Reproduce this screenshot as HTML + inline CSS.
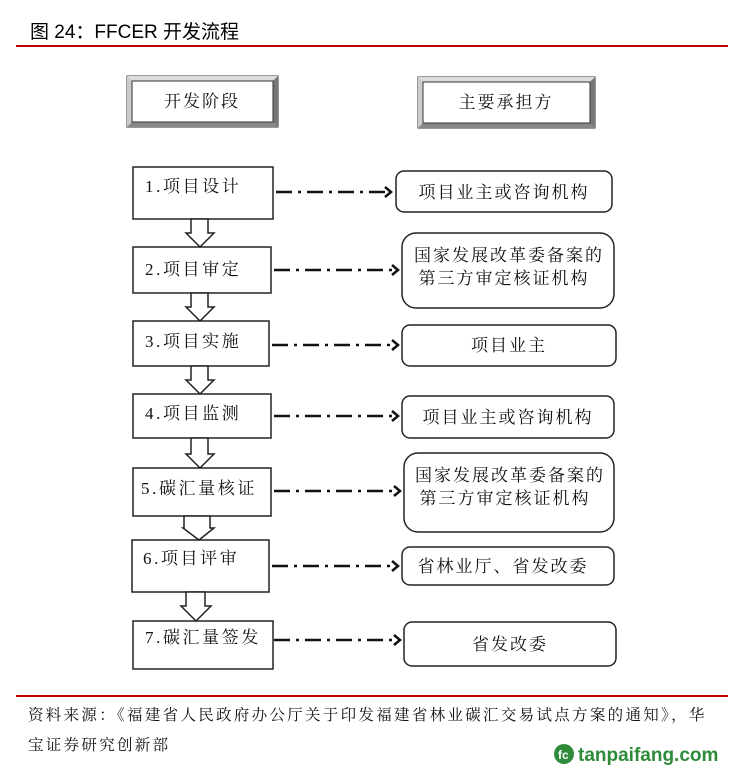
<!DOCTYPE html>
<html><head><meta charset="utf-8"><style>
html,body{margin:0;padding:0;background:#fff;width:747px;height:775px;overflow:hidden}
svg{display:block}
.t{font-family:"Liberation Serif","Noto Serif CJK SC",serif;font-size:17px;fill:#111;letter-spacing:2px}
.l{letter-spacing:2.6px}
.h{font-family:"Liberation Sans","Noto Sans CJK SC",sans-serif;font-size:19px;fill:#000}
.s{font-family:"Liberation Serif","Noto Serif CJK SC",serif;font-size:15.5px;fill:#111;letter-spacing:2.3px}
</style></head><body>
<svg width="747" height="775" viewBox="0 0 747 775" xmlns="http://www.w3.org/2000/svg">
<text class="h" x="30" y="38">图 24：FFCER 开发流程</text>
<rect x="16" y="45" width="712" height="2" fill="#c00000"/>

<g>
<rect x="127" y="76" width="151" height="51" fill="#999" stroke="#333"/>
<polygon points="127,76 278,76 273,81 132,81" fill="#ddd"/>
<polygon points="127,76 132,81 132,122 127,127" fill="#ccc"/>
<polygon points="278,76 278,127 273,122 273,81" fill="#777"/>
<polygon points="127,127 278,127 273,122 132,122" fill="#888"/>
<rect x="132" y="81" width="141" height="41" fill="#fff" stroke="#333"/>
<text class="t" x="202" y="107" text-anchor="middle" font-size="18">开发阶段</text>
</g>
<g>
<rect x="418" y="77" width="177" height="51" fill="#999" stroke="#333"/>
<polygon points="418,77 595,77 590,82 423,82" fill="#ddd"/>
<polygon points="418,77 423,82 423,123 418,128" fill="#ccc"/>
<polygon points="595,77 595,128 590,123 590,82" fill="#777"/>
<polygon points="418,128 595,128 590,123 423,123" fill="#888"/>
<rect x="423" y="82" width="167" height="41" fill="#fff" stroke="#333"/>
<text class="t" x="506" y="108" text-anchor="middle" font-size="18">主要承担方</text>
</g>

<g fill="#fff" stroke="#222" stroke-width="1.5">
<rect x="133" y="167" width="140" height="52"/>
<rect x="133" y="247" width="138" height="46"/>
<rect x="133" y="321" width="136" height="45"/>
<rect x="133" y="394" width="138" height="44"/>
<rect x="133" y="468" width="138" height="48"/>
<rect x="132" y="540" width="137" height="52"/>
<rect x="133" y="621" width="140" height="48"/>

<rect x="396" y="171" width="216" height="41" rx="8"/>
<rect x="402" y="233" width="212" height="75" rx="14"/>
<rect x="402" y="325" width="214" height="41" rx="8"/>
<rect x="402" y="396" width="212" height="42" rx="8"/>
<rect x="404" y="453" width="210" height="79" rx="14"/>
<rect x="402" y="547" width="212" height="38" rx="8"/>
<rect x="404" y="622" width="212" height="44" rx="8"/>
</g>

<g fill="#fff" stroke="#222" stroke-width="1.5">
<polygon points="191,219 208,219 208,233 214,233 200,247 186,233 191,233"/>
<polygon points="191,293 208,293 208,307 214,307 200,321 186,307 191,307"/>
<polygon points="191,366 208,366 208,380 214,380 200,394 186,380 191,380"/>
<polygon points="191,438 208,438 208,454 214,454 200,468 186,454 191,454"/>
<polygon points="184,516 210,516 210,528 214,528 199,540 183,528 184,528"/>
<polygon points="186,592 205,592 205,606 211,606 196,621 181,606 186,606"/>
</g>

<g stroke="#111" stroke-width="2.5" fill="none" stroke-dasharray="16,6,3,6">
<line x1="276" y1="192" x2="388" y2="192"/>
<line x1="274" y1="270" x2="394" y2="270"/>
<line x1="272" y1="345" x2="394" y2="345"/>
<line x1="274" y1="416" x2="394" y2="416"/>
<line x1="274" y1="491" x2="396" y2="491"/>
<line x1="272" y1="566" x2="394" y2="566"/>
<line x1="274" y1="640" x2="396" y2="640"/>
</g>
<g stroke="#111" stroke-width="2.5" fill="none">
<polyline points="385,187 391,192 385,197"/>
<polyline points="392,265 398,270 392,275"/>
<polyline points="392,340 398,345 392,350"/>
<polyline points="392,411 398,416 392,421"/>
<polyline points="394,486 400,491 394,496"/>
<polyline points="392,561 398,566 392,571"/>
<polyline points="394,635 400,640 394,645"/>
</g>

<g class="t">
<text class="l" x="145" y="192">1.项目设计</text>
<text class="l" x="145" y="275">2.项目审定</text>
<text class="l" x="145" y="347">3.项目实施</text>
<text class="l" x="145" y="419">4.项目监测</text>
<text class="l" x="141" y="494">5.碳汇量核证</text>
<text class="l" x="143" y="564">6.项目评审</text>
<text class="l" x="145" y="643">7.碳汇量签发</text>

<text x="504" y="198" text-anchor="middle">项目业主或咨询机构</text>
<text x="509" y="261" text-anchor="middle">国家发展改革委备案的</text>
<text x="504" y="284" text-anchor="middle">第三方审定核证机构</text>
<text x="509" y="351" text-anchor="middle">项目业主</text>
<text x="508" y="423" text-anchor="middle">项目业主或咨询机构</text>
<text x="510" y="481" text-anchor="middle">国家发展改革委备案的</text>
<text x="505" y="504" text-anchor="middle">第三方审定核证机构</text>
<text x="503" y="572" text-anchor="middle">省林业厅、省发改委</text>
<text x="510" y="650" text-anchor="middle">省发改委</text>
</g>

<rect x="16" y="695" width="712" height="2" fill="#c00000"/>
<text class="s" x="28" y="720">资料来源：《福建省人民政府办公厅关于印发福建省林业碳汇交易试点方案的通知》，华</text>
<text class="s" x="28" y="750">宝证券研究创新部</text>

<circle cx="564" cy="754" r="10" fill="#2e8b3a"/>
<text x="558" y="759" font-family="Liberation Sans,sans-serif" font-size="12" font-weight="bold" fill="#fff">fc</text>
<text x="578" y="761" font-family="Liberation Sans,sans-serif" font-size="19" font-weight="bold" fill="#2e8b3a">tanpaifang.com</text>
</svg>
</body></html>
